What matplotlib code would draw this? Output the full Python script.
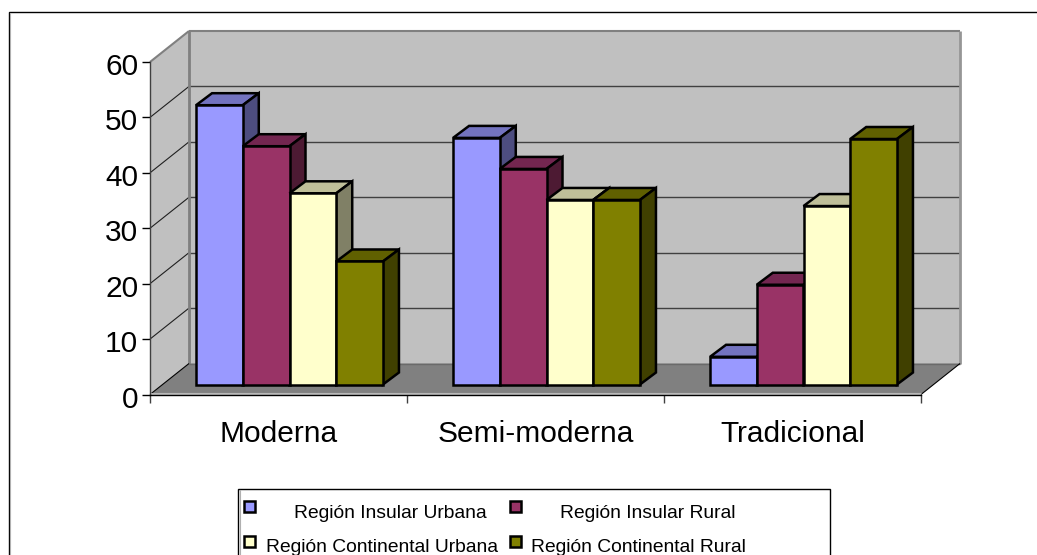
import matplotlib
matplotlib.use('Agg')
import matplotlib.pyplot as plt
from matplotlib.patches import Polygon, Rectangle
from matplotlib.transforms import Affine2D, IdentityTransform

plt.rcParams['font.family'] = ['Liberation Sans', 'DejaVu Sans']

# Values
categories = ['Moderna', 'Semi-moderna', 'Tradicional']
series_names = ['Región Insular Urbana', 'Región Insular Rural',
                'Región Continental Urbana', 'Región Continental Rural']
insular_urbana = [50.4, 44.5, 5.0]
insular_rural = [43.0, 38.9, 18.0]
continental_urbana = [34.5, 33.3, 32.2]
continental_rural = [22.2, 33.3, 44.3]
y_ticks = [0, 10, 20, 30, 40, 50, 60]

series = [insular_urbana, insular_rural, continental_urbana, continental_rural]
front_colors = ['#9999ff', '#993366', '#ffffcc', '#808000']
top_colors = ['#7373bf', '#732650', '#bfbf99', '#606000']
side_colors = ['#4d4d80', '#4d1a33', '#808066', '#404000']

W, H = 1037, 555
fig = plt.figure(figsize=(W / 100, H / 100), dpi=100)

# Outer chart frame, pixel coordinates with y measured from the top.
# Right and bottom edges fall outside the picture in the reference.
bg = fig.add_axes([0, 0, 1, 1])
bg.set_xlim(0, W)
bg.set_ylim(H, 0)
bg.axis('off')
bg.add_patch(Rectangle((8.5, 12), W, H, fc='white', ec='black', lw=1))
bg.plot([10, 10], [13, H], color='#b0b0b0', lw=0.8)

# Front plane of the 3D box
left, right, bottom, top = 150, 921, 394.5, 62
ax = fig.add_axes([left / W, 1 - bottom / H, (right - left) / W, (bottom - top) / H])
ax.set_xlim(0, 3)
ax.set_ylim(0, 60)
ax.patch.set_visible(False)
ax.set_zorder(2)

px = IdentityTransform()
# pixel offsets: wall depth, bar position inside the box, bar depth
wall_dx, wall_dy = 39, 31
bar_dx, bar_dy = 11, 10
depth_dx, depth_dy = 16, 12


def pt(x, y, dx=0, dy=0):
    X, Y = ax.transData.transform((x, y))
    return (X + dx, Y + dy)


def poly(points, **kw):
    kw.setdefault('lw', 0)
    ax.add_patch(Polygon(points, closed=True, transform=px, clip_on=False, **kw))


def line(p, q, **kw):
    ax.plot([p[0], q[0]], [p[1], q[1]], transform=px, clip_on=False,
            solid_capstyle='butt', **kw)


# Back wall, side wall and floor
poly([pt(0, 0, wall_dx, wall_dy), pt(3, 0, wall_dx, wall_dy),
      pt(3, 60, wall_dx, wall_dy), pt(0, 60, wall_dx, wall_dy)], fc='#c0c0c0', zorder=1)
poly([pt(0, 0), pt(0, 0, wall_dx, wall_dy), pt(0, 60, wall_dx, wall_dy), pt(0, 60)],
     fc='#c0c0c0', zorder=1)
poly([pt(0, 0), pt(3, 0), pt(3, 0, wall_dx, wall_dy), pt(0, 0, wall_dx, wall_dy)],
     fc='#808080', zorder=1)

for v in y_ticks[1:-1]:
    line(pt(0, v, wall_dx, wall_dy), pt(3, v, wall_dx, wall_dy), color='#404040', lw=1, zorder=1.2)
    line(pt(0, v), pt(0, v, wall_dx, wall_dy), color='#202020', lw=0.8, zorder=1.2)

# Wall outlines
gray = '#808080'
line(pt(0, 60), pt(0, 60, wall_dx, wall_dy), color=gray, lw=1.5, zorder=1.3)
line(pt(0, 60, wall_dx, wall_dy), pt(3, 60, wall_dx, wall_dy), color=gray, lw=1.5, zorder=1.3)
line(pt(0, 0, wall_dx, wall_dy), pt(0, 60, wall_dx, wall_dy), color=gray, lw=2, zorder=1.3)
line(pt(3, 0, wall_dx, wall_dy), pt(3, 60, wall_dx, wall_dy), color='#969696', lw=2, zorder=1.3)
line(pt(0, 0, wall_dx, wall_dy), pt(3, 0, wall_dx, wall_dy), color='#6a6a6a', lw=1, zorder=1.3)
line(pt(0, 0), pt(0, 0, wall_dx, wall_dy), color='black', lw=0.8, zorder=1.3)
line(pt(3, 0), pt(3, 0, wall_dx, wall_dy), color='black', lw=0.8, zorder=1.3)
line(pt(0, 0, 0, 1.2), pt(3, 0, 0, 1.2), color='#b8b8b8', lw=0.8, zorder=1.3)

# 3D bars
bar_w = 1 / 5.5
for c in range(len(categories)):
    for s, vals in enumerate(series):
        x0 = c + 0.75 / 5.5 + s * bar_w
        x1 = x0 + bar_w
        v = vals[c]
        z = 3 + s * 0.1
        a = pt(x0, v, bar_dx, bar_dy)
        b = pt(x1, v, bar_dx, bar_dy)
        low = pt(x1, 0, bar_dx, bar_dy)
        edge = dict(ec='black', lw=1.8, joinstyle='miter', zorder=z)
        poly([a, b, (b[0] + depth_dx, b[1] + depth_dy), (a[0] + depth_dx, a[1] + depth_dy)],
             fc=top_colors[s], **edge)
        poly([b, low, (low[0] + depth_dx, low[1] + depth_dy), (b[0] + depth_dx, b[1] + depth_dy)],
             fc=side_colors[s], **edge)
        poly([pt(x0, 0, bar_dx, bar_dy), low, b, a], fc=front_colors[s], **edge)

# Axes and tick labels
for name in ['top', 'right']:
    ax.spines[name].set_visible(False)
ax.spines['left'].set_color('#404040')
ax.spines['left'].set_linewidth(1)
ax.spines['bottom'].set_linewidth(1)
ax.set_yticks(y_ticks)
ax.set_xticks(range(len(categories) + 1))
ax.set_xticklabels([])
ax.set_xticks([i + 0.5 for i in range(len(categories))], categories, minor=True)
ax.tick_params(axis='y', length=6, width=1, labelsize=21.5, pad=2.5)
ax.tick_params(axis='x', which='major', length=6, width=1, color='#404040')
ax.tick_params(axis='x', which='minor', length=0, labelsize=21.5, pad=18)
for label in ax.get_yticklabels():
    label.set_transform(label.get_transform() + Affine2D().translate(0, -2))

# Legend, drawn by hand because its labels are centred in uneven columns
bg.add_patch(Rectangle((238, 488.5), 592, 80, fc='white', ec='black', lw=1))
bg.plot([240, 240], [490, H], color='#b0b0b0', lw=0.8)
swatch_x = [244, 510, 244, 510]
swatch_y = [500.5, 500.5, 535.5, 535.5]
label_x = [390.5, 647.5, 382.5, 638.5]
label_y = [513, 513, 548, 548]
for s, name in enumerate(series_names):
    bg.add_patch(Rectangle((swatch_x[s], swatch_y[s]), 11, 11, fc=front_colors[s],
                           ec='black', lw=1.8))
    bg.text(label_x[s], label_y[s], name, fontsize=13.85, ha='center', va='center')

fig.savefig('out.png', dpi=100)
